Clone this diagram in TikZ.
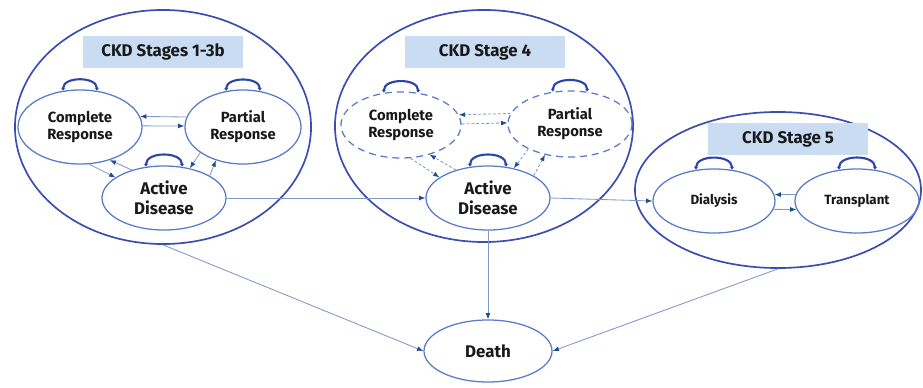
\documentclass[tikz,border=0pt]{standalone}
\usepackage{fontspec}
\setmainfont{Fira Sans}
\usetikzlibrary{arrows.meta, shapes.geometric}
\definecolor{ckdRing}{HTML}{3A4DB0}
\definecolor{ckdState}{HTML}{5A7BC8}
\definecolor{ckdLine}{HTML}{7F98C6}
\definecolor{ckdTip}{HTML}{1F4E8C}
\definecolor{ckdLoop}{HTML}{2B45A6}
\definecolor{ckdTitle}{HTML}{C9DCF1}

\begin{document}
\begin{tikzpicture}[x=0.025cm, y=-0.025cm,
  stage/.style={ellipse, draw=ckdRing, line width=1.2pt, inner sep=0pt},
  title/.style={fill=ckdTitle, minimum width=4cm, minimum height=0.78cm,
                inner sep=0pt, font=\bfseries\fontsize{12}{14}\selectfont, text=black!90},
  state/.style={ellipse, draw=ckdState, line width=0.9pt, inner sep=0pt, align=center,
                minimum width=3.1cm, minimum height=1.6cm, text=black!90,
                font=\bfseries\fontsize{10.5}{12}\selectfont},
  resp/.style={state, minimum height=1.85cm},
  dresp/.style={state, minimum width=3cm, minimum height=1.65cm,
                dash pattern=on 5pt off 3.5pt},
  big/.style={font=\bfseries\fontsize{12}{14}\selectfont},
  small/.style={font=\bfseries\fontsize{9.5}{11}\selectfont},
  arr/.style={draw=ckdLine, line width=0.6pt, -{Latex[length=4.5pt, width=3.5pt, color=ckdTip]}},
  darr/.style={arr, dash pattern=on 2pt off 1.5pt},
  selfloop/.style={draw=ckdLoop, line width=1.5pt, looseness=1.1,
                   {Latex[length=2pt, width=3pt]}-{Latex[length=2pt, width=3pt]}},
]
\useasboundingbox (0,0) rectangle (923,388);

% --- stage rings and titles ---
\node[stage, minimum width=7.4cm, minimum height=5.85cm] (s13) at (163,127) {};
\node[stage, minimum width=7.45cm, minimum height=5.8cm] (s4) at (484,126) {};
\node[stage, minimum width=7.15cm, minimum height=3.9cm] (s5) at (778,190) {};
\node[title] (t13) at (163,52) {CKD Stages 1-3b};
\node[title] (t4) at (485,52) {CKD Stage 4};
\node[title] (t5) at (788,139) {CKD Stage 5};

% --- states ---
\node[resp] (cr1) at (80,127) {Complete\\Response};
\node[resp, minimum width=2.9cm] (pr1) at (243,127) {Partial\\Response};
\node[state, big] (ad1) at (164,198) {Active\\Disease};
\node[dresp] (cr4) at (401,125) {Complete\\Response};
\node[dresp, minimum width=3.1cm] (pr4) at (570,124) {Partial\\Response};
\node[state, big] (ad4) at (488,198) {Active\\Disease};
\node[state, small, minimum width=3.05cm] (dia) at (714,201) {Dialysis};
\node[state, small] (tra) at (857,201) {Transplant};
\node[state, big, minimum width=3.2cm, minimum height=1.55cm] (death) at (488,351) {Death};

% --- staying in the same state ---
\draw[selfloop] (cr1.115) to[out=90, in=90] (cr1.65);
\draw[selfloop] (pr1.115) to[out=90, in=90] (pr1.65);
\draw[selfloop] (ad1.120) to[out=90, in=90] (ad1.60);
\draw[selfloop] (cr4.118) to[out=90, in=90] (cr4.62);
\draw[selfloop] (pr4.118) to[out=90, in=90] (pr4.62);
\draw[selfloop] (ad4.120) to[out=90, in=90] (ad4.60);
\draw[selfloop] (dia.120) to[out=90, in=90] (dia.60);
\draw[selfloop] (tra.120) to[out=90, in=90] (tra.60);

% --- stages 1-3b ---
\draw[arr] (pr1.170) -- (cr1.10);
\draw[arr] (cr1.1) -- (pr1.179);
\draw[arr] (cr1.-76) -- (ad1.157);
\draw[arr] (ad1.139) -- (cr1.-48);
\draw[arr] (pr1.-149) -- (ad1.49);
\draw[arr] (ad1.26) -- (pr1.-129);

% --- stage 4 ---
\draw[darr] (pr4.170) -- (cr4.10);
\draw[darr] (cr4.1) -- (pr4.179);
\draw[darr] (cr4.-74) -- (ad4.157);
\draw[darr] (ad4.139) -- (cr4.-46);
\draw[darr] (pr4.-149) -- (ad4.49);
\draw[darr] (ad4.26) -- (pr4.-129);

% --- stage 5 ---
\draw[arr] (tra.174) -- (dia.6);
\draw[arr] (dia.-8) -- (tra.188);

% --- progression and death ---
\draw[arr] (ad1.east) -- (ad4.west);
\draw[arr] (ad4.east) -- (dia.west);
\draw[arr] (s13.south) -- (death.west);
\draw[arr] (ad4.south) -- (death.north);
\draw[arr] (s5.south) -- (death.east);
\end{tikzpicture}
\end{document}
